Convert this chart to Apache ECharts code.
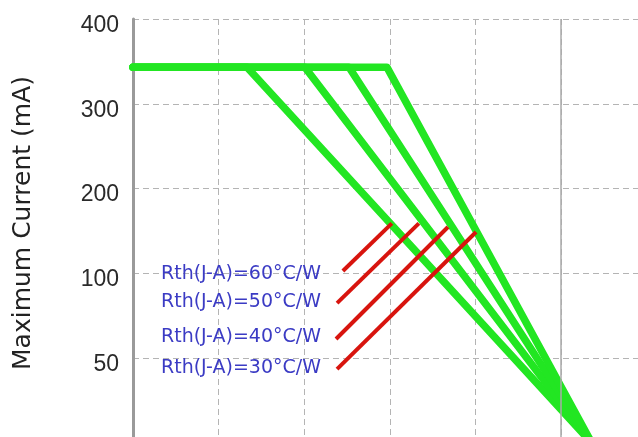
<!DOCTYPE html>
<html>
<head>
<meta charset="utf-8">
<script src="https://cdn.jsdelivr.net/npm/echarts@6/dist/echarts.min.js"></script>
<style>
  html, body { margin: 0; padding: 0; background: #fff; }
  #chart { width: 638px; height: 437px; }
</style>
</head>
<body>
<div id="chart"></div>
<script>
// y ticks are evenly spaced on the page but not evenly valued
var yTickValues = [0, 50, 100, 200, 300, 400];
var yTickLabels = ['', '50', '100', '200', '300', '400'];

// derating curves, one per Rth(J-A)
var rthValues = [60, 50, 40, 30];
var plateauCurrent = 343;
var kneeTemps = [33.3, 50.2, 63.1, 74.2];
var endTemp = 134;
var endCurrent = 0;

// red pointer lines from the labels to each curve
var pointerStartTemp = [61.3, 59.6, 59.3, 59.6];
var pointerStartCurrent = [102.8, 82.5, 61.3, 43.6];
var pointerEndTemp = [75.6, 83.5, 92.0, 100.2];
var pointerEndCurrent = [159, 159, 154.7, 148.8];

// map mA onto the piecewise axis (one unit per tick step)
function toLevel(mA) {
    for (var i = 0; i < yTickValues.length - 1; i++) {
        if (mA <= yTickValues[i + 1]) {
            return i + (mA - yTickValues[i]) / (yTickValues[i + 1] - yTickValues[i]);
        }
    }
    return yTickValues.length - 1;
}

var chart = echarts.init(document.getElementById('chart'));

var series = [];
for (var i = 0; i < rthValues.length; i++) {
    series.push({
        type: 'line',
        showSymbol: false,
        silent: true,
        lineStyle: { color: '#22e622', width: 7.5, cap: 'round', join: 'round' },
        data: [
            [0, toLevel(plateauCurrent)],
            [kneeTemps[i], toLevel(plateauCurrent)],
            [endTemp, toLevel(endCurrent)]
        ],
        z: 2
    });
}
for (var j = 0; j < rthValues.length; j++) {
    series.push({
        type: 'line',
        showSymbol: false,
        silent: true,
        lineStyle: { color: '#d8140e', width: 4 },
        data: [
            [pointerStartTemp[j], toLevel(pointerStartCurrent[j])],
            [pointerEndTemp[j], toLevel(pointerEndCurrent[j])]
        ],
        z: 3
    });
}
// the one solid vertical grid line
series.push({
    type: 'line',
    data: [],
    markLine: {
        silent: true,
        symbol: 'none',
        label: { show: false },
        lineStyle: { color: '#aaaaaa', width: 1.5, type: 'solid' },
        data: [{ xAxis: 125 }]
    }
});

// label text sits left-aligned in a column beside the pointers
var labelTops = [265, 293, 328, 359];
var labelText = rthValues.map(function (r, k) {
    return {
        type: 'text',
        left: 161,
        top: labelTops[k],
        z: 10,
        style: {
            text: 'Rth(J-A)=' + r + '°C/W',
            fill: '#3b3bc4',
            font: '19px "DejaVu Sans"'
        }
    };
});

var option = {
    animation: false,
    backgroundColor: '#ffffff',
    grid: {
        left: 133,
        right: 0,
        top: 19,
        bottom: -6,
        outerBoundsMode: 'none'
    },
    xAxis: {
        type: 'value',
        position: 'top',
        min: 0,
        max: 147.5,
        interval: 25,
        axisLine: { show: true, lineStyle: { color: '#9a9a9a', width: 3 } },
        axisTick: { show: false },
        axisLabel: { show: false },
        splitLine: { show: true, lineStyle: { color: '#b4b4b4', type: [6, 4], width: 1 } }
    },
    yAxis: {
        type: 'value',
        min: 0,
        max: 5,
        interval: 1,
        name: 'Maximum Current (mA)',
        nameLocation: 'middle',
        nameRotate: 90,
        nameGap: 97,
        nameTextStyle: { color: '#222', fontFamily: 'DejaVu Sans', fontSize: 25, padding: [0, 0, 0, 16] },
        axisLine: { show: true, onZero: false, lineStyle: { color: '#9a9a9a', width: 3 } },
        axisTick: { show: false },
        axisLabel: {
            margin: 14,
            color: '#2a2a2a',
            fontFamily: 'Liberation Sans',
            fontSize: 23,
            verticalAlign: 'top',
            padding: [-5, 0, 0, 0],
            formatter: function (v) { return yTickLabels[v]; }
        },
        splitLine: { show: true, lineStyle: { color: '#b4b4b4', type: [6, 4], width: 1 } }
    },
    graphic: labelText,
    series: series
};
chart.setOption(option);
</script>
</body>
</html>
